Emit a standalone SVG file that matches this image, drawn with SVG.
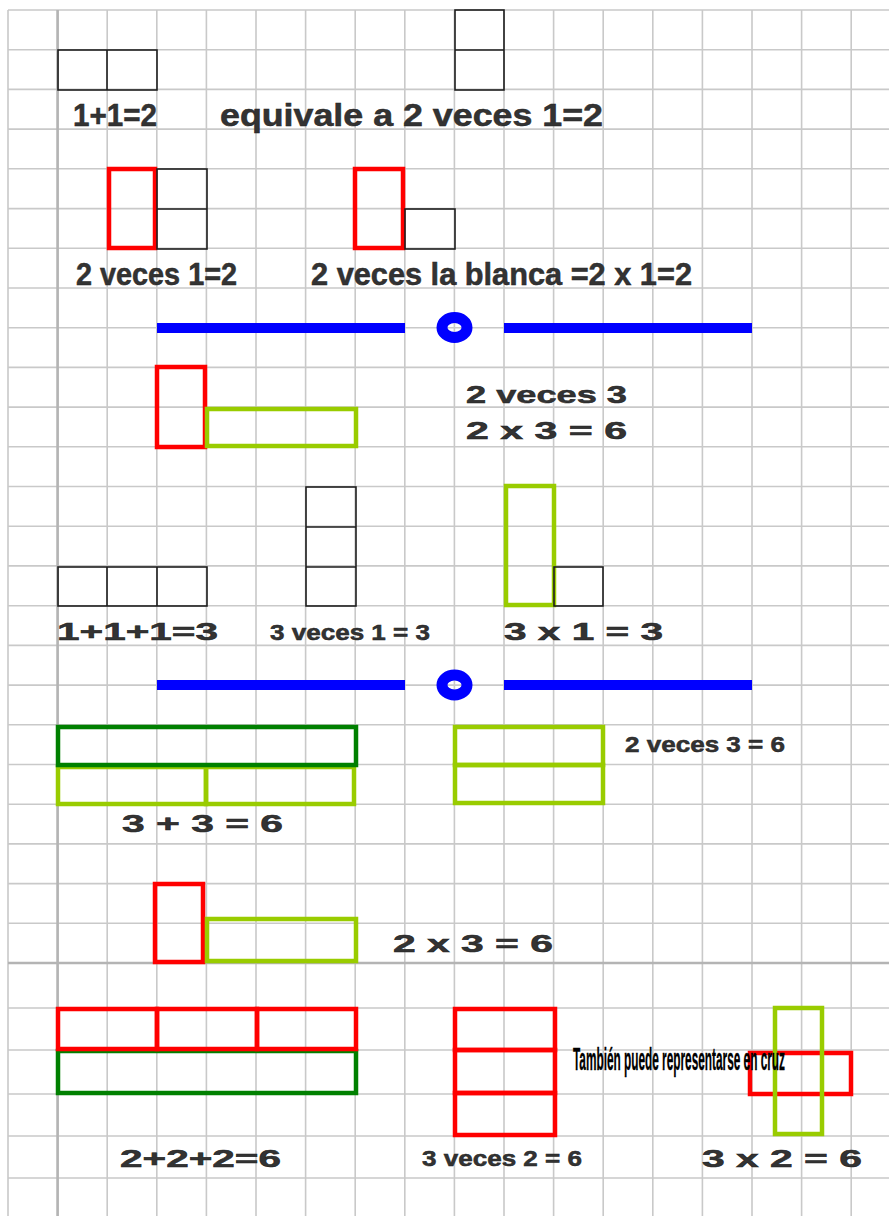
<svg xmlns="http://www.w3.org/2000/svg" width="889" height="1216" viewBox="0 0 889 1216">
<style>
.g{stroke:#c9c9c9;stroke-width:1.6;fill:none}
.gd{stroke:#b4b4b4;stroke-width:2.6;fill:none}
.bk{fill:none;stroke:#1e1e1e;stroke-width:1.6}
.rd{fill:none;stroke:#ff0000;stroke-width:4.5}
.lg{fill:none;stroke:#99cc00;stroke-width:4.5}
.dg{fill:none;stroke:#008000;stroke-width:4.5}
.bl{stroke:#0000ff;stroke-width:10;fill:none}
.ring{fill:none;stroke:#0000ff;stroke-width:11}
.t{font-family:"Liberation Sans",Arial,sans-serif;font-weight:bold;fill:#333;stroke:#222;stroke-width:0.5}
.a{font-size:31px}
.w{font-size:24px}
.m{font-size:22px}
.c{font-size:31px;fill:#000;stroke:#000;stroke-width:0.3}
</style>
<rect width="889" height="1216" fill="#fff"/>
<g id="grid">
<path class="g" d="M8 10V1216M57.6 10V1216M107.2 10V1216M156.8 10V1216M206.4 10V1216M256 10V1216M305.6 10V1216M355.2 10V1216M404.8 10V1216M454.4 10V1216M504 10V1216M553.6 10V1216M603.2 10V1216M652.8 10V1216M702.4 10V1216M752 10V1216M801.6 10V1216M851.2 10V1216"/>
<path class="g" d="M8 10H889M8 49.7H889M8 89.4H889M8 129.1H889M8 168.8H889M8 208.6H889M8 248.3H889M8 288H889M8 327.7H889M8 367.4H889M8 407.1H889M8 446.8H889M8 486.5H889M8 526.2H889M8 565.9H889M8 605.7H889M8 645.4H889M8 685.1H889M8 724.8H889M8 764.5H889M8 804.2H889M8 843.9H889M8 883.6H889M8 923.3H889M8 1008H889M8 1050H889M8 1094H889M8 1136H889M8 1178H889"/>
<path class="gd" d="M57.6 10V1216M8 963H889"/>
</g>
<g id="n1">
<rect class="bk" x="58" y="50" width="99" height="40"/>
<path class="bk" d="M107 50V90"/>
<text class="t a" x="73" y="126" textLength="84" lengthAdjust="spacingAndGlyphs">1+1=2</text>
</g>
<g id="n2">
<rect class="bk" x="455" y="10" width="49" height="80"/>
<path class="bk" d="M455 50H504"/>
<text class="t a" x="220" y="126" textLength="383" lengthAdjust="spacingAndGlyphs">equivale a 2 veces 1=2</text>
</g>
<g id="n3">
<rect class="rd" x="109" y="169" width="46" height="79"/>
<rect class="bk" x="157" y="169" width="50" height="80"/>
<path class="bk" d="M157 209H207"/>
<text class="t a" x="76" y="285" textLength="161" lengthAdjust="spacingAndGlyphs">2 veces 1=2</text>
</g>
<g id="n4">
<rect class="rd" x="355" y="169" width="48" height="79"/>
<rect class="bk" x="405" y="209" width="50" height="40"/>
<text class="t a" x="311" y="285" textLength="381" lengthAdjust="spacingAndGlyphs">2 veces la blanca =2 x 1=2</text>
</g>
<g id="sep1">
<path class="bl" d="M157 328H405M504 328H752"/>
<ellipse class="ring" cx="454.5" cy="327.5" rx="12.5" ry="10"/>
</g>
<g id="n5">
<rect class="rd" x="157" y="367" width="48" height="80"/>
<rect class="lg" x="207" y="409" width="149" height="37"/>
<text class="t w" x="466" y="403" textLength="161" lengthAdjust="spacingAndGlyphs">2 veces 3</text>
<text class="t w" x="466" y="439" textLength="161" lengthAdjust="spacingAndGlyphs">2 x 3 = 6</text>
</g>
<g id="n6">
<rect class="bk" x="58" y="567" width="149" height="39"/>
<path class="bk" d="M107 567V606M157 567V606"/>
<text class="t w" x="57" y="640" textLength="161" lengthAdjust="spacingAndGlyphs">1+1+1=3</text>
</g>
<g id="n7">
<rect class="bk" x="306" y="487" width="50" height="119"/>
<path class="bk" d="M306 527H356M306 567H356"/>
<text class="t m" x="270" y="640" textLength="160" lengthAdjust="spacingAndGlyphs">3 veces 1 = 3</text>
</g>
<g id="n8">
<rect class="lg" x="506" y="486" width="48" height="119"/>
<rect class="bk" x="554" y="567" width="49" height="39"/>
<text class="t w" x="504" y="640" textLength="159" lengthAdjust="spacingAndGlyphs">3 x 1 = 3</text>
</g>
<g id="sep2">
<path class="bl" d="M157 685H405M504 685H752"/>
<ellipse class="ring" cx="454.5" cy="685" rx="12.5" ry="10"/>
</g>
<g id="n9">
<rect class="lg" x="58" y="767" width="148" height="37"/>
<rect class="lg" x="206" y="767" width="148" height="37"/>
<rect class="dg" x="58" y="727" width="298" height="38"/>
<text class="t w" x="122" y="832" textLength="161" lengthAdjust="spacingAndGlyphs">3 + 3 = 6</text>
</g>
<g id="n10">
<rect class="lg" x="455" y="727" width="148" height="38"/>
<rect class="lg" x="455" y="765" width="148" height="38"/>
<text class="t m" x="625" y="752" textLength="160" lengthAdjust="spacingAndGlyphs">2 veces 3 = 6</text>
</g>
<g id="n11">
<rect class="rd" x="155" y="884" width="48" height="78"/>
<rect class="lg" x="207" y="919" width="149" height="42"/>
<text class="t w" x="393" y="952" textLength="160" lengthAdjust="spacingAndGlyphs">2 x 3 = 6</text>
</g>
<g id="n12">
<rect class="dg" x="58" y="1051" width="298" height="42"/>
<rect class="rd" x="58" y="1009" width="99" height="40"/>
<rect class="rd" x="157" y="1009" width="100" height="40"/>
<rect class="rd" x="257" y="1009" width="99" height="40"/>
<text class="t w" x="120" y="1167" textLength="161" lengthAdjust="spacingAndGlyphs">2+2+2=6</text>
</g>
<g id="n13">
<rect class="rd" x="455" y="1009" width="100" height="41"/>
<rect class="rd" x="455" y="1050" width="100" height="43"/>
<rect class="rd" x="455" y="1093" width="100" height="42"/>
<text class="t m" x="422" y="1166" textLength="160" lengthAdjust="spacingAndGlyphs">3 veces 2 = 6</text>
</g>
<g id="n14">
<rect class="rd" x="750" y="1053" width="101" height="41"/>
<rect class="lg" x="775" y="1008" width="47" height="126"/>
<text class="t w" x="702" y="1167" textLength="160" lengthAdjust="spacingAndGlyphs">3 x 2 = 6</text>
</g>
<g id="n15">
<text class="t c" x="573" y="1070" textLength="212" lengthAdjust="spacingAndGlyphs">También puede representarse en cruz</text>
</g>
</svg>
